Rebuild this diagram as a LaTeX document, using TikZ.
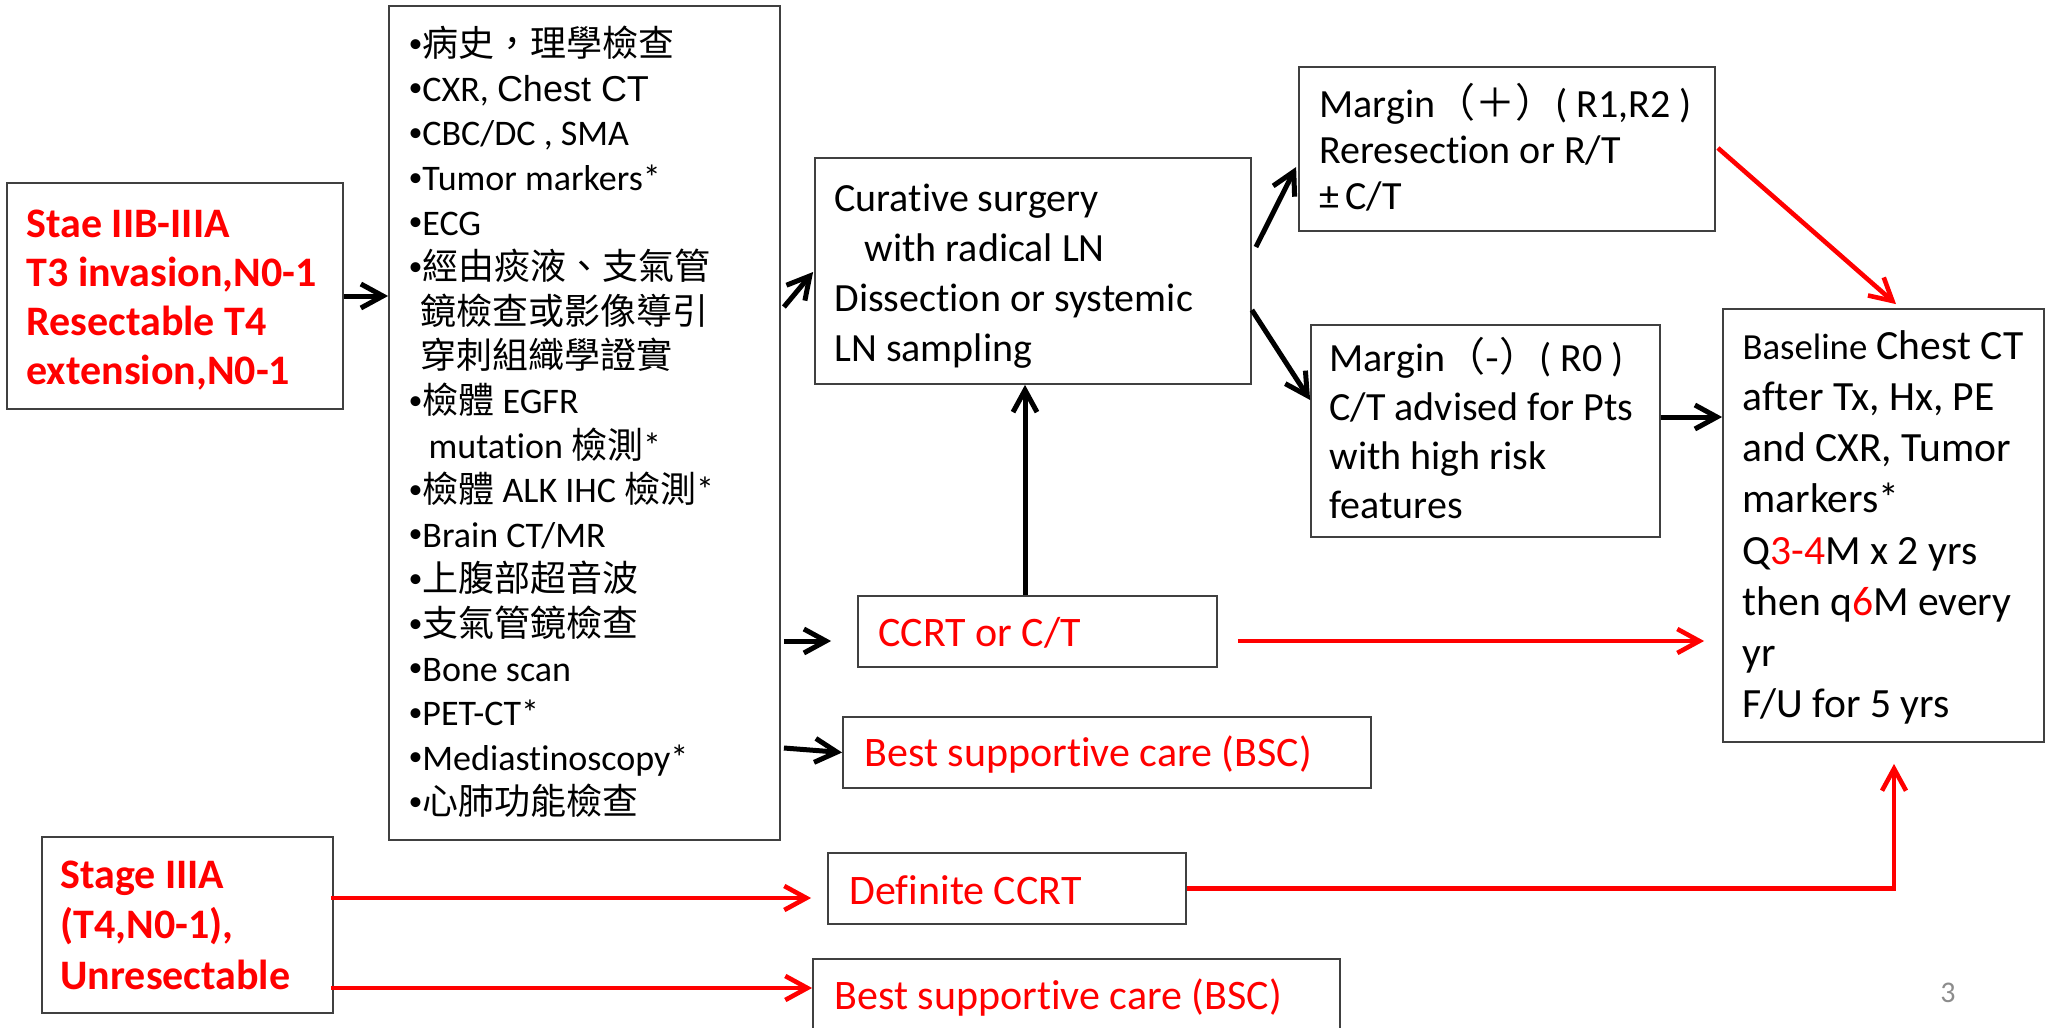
\documentclass[tikz,border=0pt]{standalone}
\usepackage{fontspec}
\setmainfont{Carlito}[Ligatures=NoCommon]
\newfontfamily\cjk{Noto Sans CJK TC}
\newfontfamily\arialf{Liberation Sans}
\usetikzlibrary{arrows.meta,calc}
\definecolor{pptred}{RGB}{255,0,0}
\definecolor{boxline}{RGB}{64,64,64}
\newcommand\bul{\raisebox{0.12em}{\fontsize{14}{14}\selectfont •}}
\begin{document}
\begin{tikzpicture}[x=0.5pt,y=-0.5pt,
  box/.style={draw=boxline, line width=0.9pt, inner sep=0pt, fill=white},
  txt/.style={anchor=west, inner sep=0pt, align=left},
  barr/.style={line width=2.5pt, -{Straight Barb[length=11pt,width=12pt]}},
  rarr/.style={draw=pptred, line width=2.3pt, -{Straight Barb[length=11pt,width=12pt]}},
  redbold/.style={text=pptred, font=\bfseries\fontsize{21}{24.4}\selectfont},
  redtxt/.style={text=pptred, font=\fontsize{21}{25}\selectfont},
]
\useasboundingbox (0,0) rectangle (2048,1027);
\clip (0,0) rectangle (2048,1027);

% boxes
\node[box, minimum width=168pt, minimum height=113pt] (s1) at (175,296) {};
\node[box, minimum width=195.5pt, minimum height=417pt] (list) at (584.5,423) {};
\node[box, minimum width=218pt, minimum height=113pt] (cur) at (1033,271) {};
\node[box, minimum width=208pt, minimum height=82pt] (mp) at (1507,149) {};
\node[box, minimum width=174.5pt, minimum height=106pt] (mm) at (1485.5,431) {};
\node[box, minimum width=160.5pt, minimum height=216.5pt] (base) at (1883.5,525.5) {};
\node[box, minimum width=179.5pt, minimum height=35.5pt] (ccrt) at (1037.5,631.5) {};
\node[box, minimum width=264pt, minimum height=35.5pt] (bsc1) at (1107,752.5) {};
\node[box, minimum width=179pt, minimum height=35.5pt] (def) at (1007,888.5) {};
\node[box, minimum width=263.5pt, minimum height=35.5pt] (bsc2) at (1076.5,994.5) {};
\node[box, minimum width=145.5pt, minimum height=88pt] (s2) at (187.5,925) {};

% texts
\node[txt, redbold] (s1t) at ([shift={(20,4)}]s1.west)
  {Stae IIB-IIIA\\T3 invasion,N0-1\\Resectable T4\\extension,N0-1};
\node[txt, redbold, font=\bfseries\fontsize{21}{25.25}\selectfont] (s2t) at ([shift={(19,0)}]s2.west)
  {Stage IIIA\\(T4,N0-1),\\Unresectable};
\node[txt, font=\fontsize{18}{22.3}\selectfont] (listt) at ([shift={(20,-1)}]list.west)
  {\bul{\cjk 病史，理學檢查}\\
   \bul CXR, {\arialf Chest CT}\\
   \bul CBC/DC , SMA\\
   \bul Tumor markers*\\
   \bul ECG\\
   \bul{\cjk 經由痰液、支氣管}\\
   \hspace*{6pt}{\cjk 鏡檢查或影像導引}\\
   \hspace*{6pt}{\cjk 穿刺組織學證實}\\
   \bul{\cjk 檢體} EGFR\\
   \hspace*{6pt} mutation {\cjk 檢測}*\\
   \bul{\cjk 檢體} ALK IHC {\cjk 檢測}*\\
   \bul Brain CT/MR\\
   \bul{\cjk 上腹部超音波}\\
   \bul{\cjk 支氣管鏡檢查}\\
   \bul Bone scan\\
   \bul PET-CT*\\
   \bul Mediastinoscopy*\\
   \bul{\cjk 心肺功能檢查}};
\node[txt, font=\fontsize{20}{25}\selectfont] (curt) at ([shift={(20,5)}]cur.west)
  {Curative surgery\\\hspace*{15pt}with radical LN\\Dissection or systemic\\LN sampling};
\node[txt, font=\fontsize{20}{23}\selectfont] (mpt) at ([shift={(21,-2)}]mp.west)
  {Margin{\cjk （＋）}( R1,R2 )\\Reresection or R/T\\±\hspace{3pt}C/T};
\node[txt, font=\fontsize{20}{24.4}\selectfont] (mmt) at ([shift={(19,-3)}]mm.west)
  {Margin{\cjk （-）}( R0 )\\C/T advised for Pts\\with high risk\\features};
\node[txt, font=\fontsize{20.8}{25.6}\selectfont] (baset) at ([shift={(20,2)}]base.west)
  {{\fontsize{18.4}{25.6}\selectfont Baseline} Chest CT\\after Tx, Hx, PE\\and CXR, Tumor\\markers*\\Q{\color{pptred}3-4}M x 2 yrs\\then q{\color{pptred}6}M every\\yr\\F/U for 5 yrs};
\node[txt, redtxt] (ccrtt) at ([shift={(21,1.5)}]ccrt.west) {CCRT or C/T};
\node[txt, redtxt] (bsc1t) at ([shift={(22,2.5)}]bsc1.west) {Best supportive care (BSC)};
\node[txt, redtxt] (deft) at ([shift={(22,1.5)}]def.west) {Definite CCRT};
\node[txt, redtxt] (bsc2t) at ([shift={(22,3.5)}]bsc2.west) {Best supportive care (BSC)};
\node[text=black!45, font=\fontsize{15}{18}\selectfont] (pg) at (1948,993) {3};

% black connectors
\draw[barr] (s1.east) -- (s1.east -| list.west);
\draw[barr] ([shift={(3,-116)}]list.east) -- ([shift={(-1,1)}]cur.west);
\draw[barr] ([shift={(4,-24)}]cur.east) -- ([shift={(-2,18)}]mp.west);
\draw[barr] ([shift={(0,39)}]cur.east) -- ([shift={(0,-31)}]mm.west);
\draw[barr] ([shift={(0,-14)}]mm.east) -- ([shift={(0,-14)}]mm.east -| base.west);
\draw[barr] ([shift={(-12.5,0)}]ccrt.north) -- ([shift={(-12.5,0)}]ccrt.north |- cur.south);
\draw[barr] ([shift={(3,218)}]list.east) -- ([shift={(-26,9.5)}]ccrt.west);
\draw[barr] ([shift={(3,325)}]list.east) -- (bsc1.west);

% red connectors
\draw[rarr] ([shift={(2,-1)}]mp.east) -- ([shift={(12.5,-4)}]base.north);
\draw[rarr] ([shift={(20,9.5)}]ccrt.east) -- ([shift={(-18,115.5)}]base.west);
\draw[rarr] (def.east) -| ([shift={(10.5,21)}]base.south);
\draw[rarr] ([shift={(-3,-27)}]s2.east) -- ([shift={(-16,9.5)}]def.west);
\draw[rarr] ([shift={(-3,63)}]s2.east) -- ([shift={(0,-6.5)}]bsc2.west);
\end{tikzpicture}
\end{document}
